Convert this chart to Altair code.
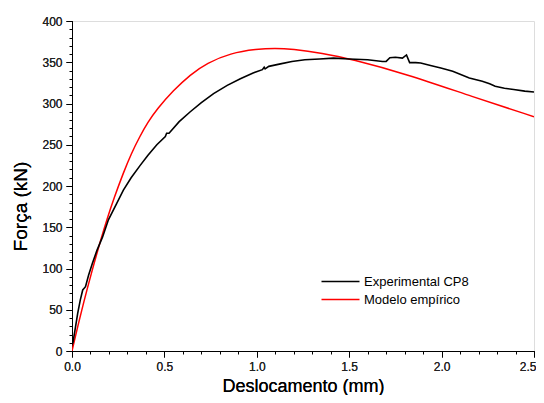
import altair as alt
import pandas as pd

# Experimental CP8 (black)
exp_x = [0.0, 0.005, 0.016, 0.031, 0.045, 0.058, 0.073, 0.09, 0.11, 0.135, 0.165, 0.197, 0.24,
         0.278, 0.32, 0.369, 0.41, 0.459, 0.505, 0.512, 0.517, 0.525, 0.58, 0.64, 0.70, 0.766,
         0.84, 0.911, 0.98, 1.03, 1.04, 1.045, 1.065, 1.128, 1.19, 1.26, 1.34, 1.415, 1.50,
         1.60, 1.68, 1.70, 1.72, 1.75, 1.788, 1.81, 1.827, 1.86, 1.887, 1.94, 1.996, 2.06,
         2.15, 2.22, 2.26, 2.29, 2.34, 2.39, 2.45, 2.5]
exp_y = [8, 10, 25, 46, 62, 74, 78, 92, 106, 122, 138, 159, 178,
         195, 210, 225, 237, 250, 260, 264, 264, 264, 278, 290, 301, 312,
         322, 330, 337, 341, 344, 342, 345, 348, 351, 353, 354, 355, 354,
         353, 351, 351, 355.5, 356, 355, 358.8, 349.5, 349.5, 349, 346, 343, 339,
         331, 327, 324, 321, 318.5, 317, 315, 314]

# Modelo empírico (red)
mod_x = [0.0, 0.05, 0.114, 0.152, 0.188, 0.23, 0.278, 0.32, 0.369, 0.41, 0.459, 0.549, 0.64,
         0.73, 0.857, 1.0, 1.1, 1.19, 1.356, 1.51, 1.806, 2.17, 2.5]
mod_y = [0, 48, 102, 132, 159, 187, 216, 239, 261, 277, 293, 316, 335,
         349, 361, 366, 367, 366, 361, 354, 336, 308, 284]

series_names = ["Experimental CP8", "Modelo empírico"]
series_colors = ["#000000", "#ff0000"]

x_major = [0.0, 0.5, 1.0, 1.5, 2.0, 2.5]
x_minor = [i / 10 for i in range(0, 26)]
y_major = list(range(0, 401, 50))
y_minor = list(range(0, 401, 10))

df_exp = pd.DataFrame({"x": exp_x, "y": exp_y, "serie": series_names[0]})
df_mod = pd.DataFrame({"x": mod_x, "y": mod_y, "serie": series_names[1]})

FONT = "Liberation Sans"

xscale = alt.Scale(domain=[0, 2.5], nice=False, zero=False)
yscale = alt.Scale(domain=[0, 400], nice=False, zero=False)
color = alt.Color(
    "serie:N",
    scale=alt.Scale(domain=series_names, range=series_colors),
    legend=alt.Legend(
        title=None, orient="none", legendX=260, legendY=252,
        symbolType="M-2.5,0H2.5", symbolSize=231, symbolStrokeWidth=1.5,
        labelFont=FONT, labelFontSize=13, labelColor="#000000",
        rowPadding=2, labelOffset=15,
    ),
)

x_axis = alt.Axis(
    title="Deslocamento (mm)", values=x_major, format=".1f", orient="bottom",
    titleFont=FONT, titleFontSize=18, titleFontWeight="normal", titleColor="#000000",
    titleY=40, titleBaseline="alphabetic",
    labelFont=FONT, labelFontSize=12, labelColor="#222222",
    labelPadding=4, tickSize=6, tickColor="#000000", domainColor="#000000",
    grid=False, labelFlush=False,
    labelAlign={"condition": {"test": "datum.value >= 2.5", "value": "right"}, "value": "center"},
    labelOffset={"condition": {"test": "datum.value >= 2.5", "value": 2}, "value": 0},
)
y_axis = alt.Axis(
    title="Força (kN)", values=y_major, orient="left",
    titleFont=FONT, titleFontSize=19, titleFontWeight="normal", titleColor="#000000",
    titleX=-52, titleY=185, titleBaseline="middle",
    labelFont=FONT, labelFontSize=12, labelColor="#222222",
    labelPadding=4, tickSize=6, tickColor="#000000", domainColor="#000000",
    grid=False,
)

exp_line = alt.Chart(df_exp).mark_line(strokeWidth=1.6, clip=True).encode(
    x=alt.X("x:Q", scale=xscale, axis=x_axis),
    y=alt.Y("y:Q", scale=yscale, axis=y_axis),
    color=color,
)
mod_line = alt.Chart(df_mod).mark_line(strokeWidth=1.5, interpolate="basis", clip=True).encode(
    x=alt.X("x:Q", scale=xscale, axis=x_axis),
    y=alt.Y("y:Q", scale=yscale, axis=y_axis),
    color=color,
)

minor = alt.Chart(df_mod).mark_point(opacity=0).encode(
    x=alt.X("x:Q", scale=xscale, axis=alt.Axis(
        values=x_minor, labels=False, title=None, tickSize=3, domain=False,
        grid=False, orient="bottom", tickColor="#000000")),
    y=alt.Y("y:Q", scale=yscale, axis=alt.Axis(
        values=y_minor, labels=False, title=None, tickSize=3, domain=False,
        grid=False, orient="left", tickColor="#000000")),
)

chart = alt.layer(mod_line, exp_line, minor).resolve_axis(
    x="independent", y="independent"
).properties(
    width=462, height=330,
    autosize=alt.AutoSizeParams(type="none"),
    padding={"left": 64, "top": 13, "right": 2, "bottom": 44},
).configure_view(
    stroke="#808080", strokeWidth=1.5
).configure(background="white")

chart.save("out.html", embed_options={"renderer": "svg", "actions": False})
